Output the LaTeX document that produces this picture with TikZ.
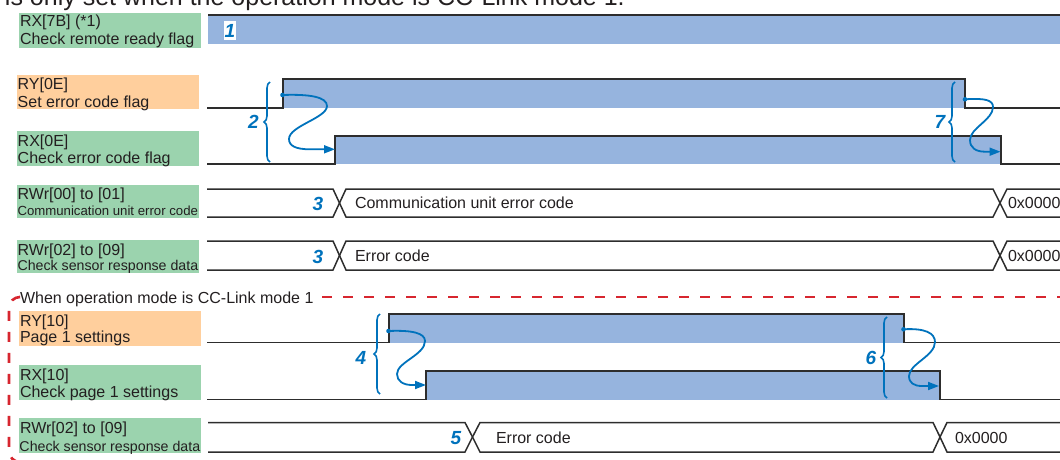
\documentclass[tikz,border=0pt]{standalone}
\usepackage{fontspec}
\setmainfont{Liberation Sans}
\usetikzlibrary{arrows.meta,decorations.pathreplacing}
\definecolor{lblgreen}{RGB}{155,211,174}
\definecolor{lblorange}{RGB}{255,207,157}
\definecolor{sigblue}{RGB}{150,180,222}
\definecolor{arrblue}{RGB}{0,114,188}
\definecolor{dashred}{RGB}{215,38,47}
\definecolor{txt}{RGB}{35,31,32}
\definecolor{wavec}{RGB}{45,45,45}
\tikzset{
  gbox/.style={fill=lblgreen, draw=none, inner sep=0pt, outer sep=0pt},
  obox/.style={fill=lblorange, draw=none, inner sep=0pt, outer sep=0pt},
  lbl/.style={anchor=base west, inner sep=0pt, outer sep=0pt, text=txt, font=\fontsize{16}{16}\selectfont},
  lblsm/.style={lbl, font=\fontsize{13.2}{13.2}\selectfont},
  lblmd/.style={lbl, font=\fontsize{14.2}{14.2}\selectfont},
  num/.style={inner sep=0pt, outer sep=0pt, text=arrblue, font=\fontsize{19}{19}\selectfont\bfseries\itshape},
  wave/.style={draw=wavec, line width=1.5pt, line join=miter},
  hi/.style={fill=sigblue, draw=none},
  flow/.style={draw=arrblue, line width=1.8pt, -{Triangle[length=11pt,width=8pt]}},
  dotst/.style={fill=arrblue, draw=none},
  brc/.style={draw=arrblue, line width=1.6pt, decorate, decoration={brace, amplitude=6pt}},
  dframe/.style={draw=dashred, line width=2.6pt, dash pattern=on 10pt off 11pt},
}
\begin{document}
\begin{tikzpicture}[x=1pt,y=-1pt]
\useasboundingbox (0,0) rectangle (1060,460);
\clip (0,0) rectangle (1060,460);

% clipped title line
\node[lbl, font=\fontsize{25}{25}\selectfont] (ttl) at (5,5.5) {is only set when the operation mode is CC-Link mode 1.};

% ---------- label boxes ----------
\node[gbox, minimum width=182pt, minimum height=35pt] (b1) at (110,30.5) {};
\node[lbl] (t1a) at (20,27) {RX[7B] (*1)};
\node[lbl] (t1b) at (20,45) {Check remote ready flag};

\node[obox, minimum width=182pt, minimum height=34pt] (b2) at (108,92) {};
\node[lbl] (t2a) at (17.7,89.5) {RY[0E]};
\node[lbl] (t2b) at (17.7,107) {Set error code flag};

\node[gbox, minimum width=182pt, minimum height=35pt] (b3) at (108,148.5) {};
\node[lbl] (t3a) at (17.7,146) {RX[0E]};
\node[lbl] (t3b) at (17.7,163) {Check error code flag};

\node[gbox, minimum width=182pt, minimum height=33pt] (b4) at (108,201.5) {};
\node[lbl] (t4a) at (17.7,199) {RWr[00] to [01]};
\node[lblsm] (t4b) at (17.5,215) {Communication unit error code};

\node[gbox, minimum width=182pt, minimum height=33pt] (b5) at (108,256.5) {};
\node[lbl] (t5a) at (17.7,255) {RWr[02] to [09]};
\node[lblmd] (t5b) at (17.5,270) {Check sensor response data};

\node[obox, minimum width=182pt, minimum height=35pt] (b6) at (110,328.5) {};
\node[lbl] (t6a) at (20,326) {RY[10]};
\node[lbl] (t6b) at (20,342) {Page 1 settings};

\node[gbox, minimum width=182pt, minimum height=35pt] (b7) at (110,382.5) {};
\node[lbl] (t7a) at (20,380) {RX[10]};
\node[lbl] (t7b) at (20,397) {Check page 1 settings};

\node[gbox, minimum width=182pt, minimum height=35pt] (b8) at (110,435.5) {};
\node[lbl] (t8a) at (20,433) {RWr[02] to [09]};
\node[lblmd] (t8b) at (19.5,451) {Check sensor response data};

% ---------- CC-Link mode 1 frame ----------
\node[lbl] (mode) at (20,303) {When operation mode is CC-Link mode 1};
\draw[dframe] (322,297) -- (1060,297);
\draw[dframe, rounded corners=11pt] (19,297) -- (9,297) -- (9,462) -- (40,462);

% ---------- row 1 ----------
\fill[hi] (208,16) rectangle (1060,44);
\draw[wave] (208,15) -- (1060,15);
\node[fill=white, inner sep=0pt, minimum width=12pt, minimum height=19pt] (n1bg) at (230,30.5) {};
\node[num] (n1) at (230,30.5) {1};

% ---------- row 2 / row 3 ----------
\fill[hi] (283,79) rectangle (965,108);
\draw[wave] (207,108) -- (283,108) -- (283,79) -- (965,79) -- (965,108) -- (1060,108);
\fill[hi] (335,136) rectangle (1001,164);
\draw[wave] (207,164) -- (335,164) -- (335,136) -- (1001,136) -- (1001,164) -- (1060,164);

\draw[brc] (270,162) -- (270,82);
\node[num] (n2) at (253.5,122) {2};
\draw[brc] (955,162) -- (955,82);
\node[num] (n7) at (940,122) {7};

\coordinate (a2s) at (282.5,95);
\coordinate (a2e) at (335,149.3);
\fill[dotst] (a2s) circle (2.3pt);
\draw[flow] (a2s) .. controls (310,94) and (327,97) .. (327,106)
  .. controls (327,118) and (289,126) .. (289,139)
  .. controls (289,146) and (296,149.3) .. (310,149.3) -- (a2e);

\coordinate (a7s) at (965,99.3);
\coordinate (a7e) at (1000.5,151.7);
\fill[dotst] (a7s) circle (2.3pt);
\draw[flow] (a7s) .. controls (985,98) and (993,100) .. (993,107)
  .. controls (993,120) and (970,128) .. (970,140)
  .. controls (970,148) and (976,151.7) .. (985,151.7) -- (a7e);

% ---------- row 4 (bus) ----------
\draw[wave] (207,189) -- (333,189) -- (339.5,203) -- (333,217) -- (207,217);
\draw[wave] (346,189) -- (993,189) -- (1000,203) -- (993,217) -- (346,217) -- (339.5,203) -- cycle;
\draw[wave] (1060,189) -- (1007,189) -- (1000,203) -- (1007,217) -- (1060,217);
\node[num] (n3a) at (318,204) {3};
\node[lbl] (c4) at (355,208.5) {Communication unit error code};
\node[lbl] (z4) at (1008,208) {0x0000};

% ---------- row 5 (bus) ----------
\draw[wave] (207,241) -- (333,241) -- (339.5,255.5) -- (333,270) -- (207,270);
\draw[wave] (346,241) -- (993,241) -- (1000,255.5) -- (993,270) -- (346,270) -- (339.5,255.5) -- cycle;
\draw[wave] (1060,241) -- (1007,241) -- (1000,255.5) -- (1007,270) -- (1060,270);
\node[num] (n3b) at (318,257) {3};
\node[lbl] (c5) at (355,261.5) {Error code};
\node[lbl] (z5) at (1008,261) {0x0000};

% ---------- RY[10] / RX[10] ----------
\fill[hi] (389,314) rectangle (904,342.5);
\draw[wave] (207,342.5) -- (389,342.5) -- (389,314) -- (904,314) -- (904,342.5) -- (1060,342.5);
\fill[hi] (426,371) rectangle (940,399.5);
\draw[wave] (207,399.5) -- (426,399.5) -- (426,371) -- (940,371) -- (940,399.5) -- (1060,399.5);

\draw[brc] (380,394) -- (380,314);
\node[num] (n4) at (361,358) {4};
\draw[brc] (887,398) -- (887,317);
\node[num] (n6) at (871,358) {6};

\coordinate (a4s) at (388.5,331);
\coordinate (a4e) at (426,385);
\fill[dotst] (a4s) circle (2.3pt);
\draw[flow] (a4s) .. controls (412,330) and (425,333) .. (425,341)
  .. controls (425,355) and (397,362) .. (397,374)
  .. controls (397,381) and (403,385) .. (412,385) -- (a4e);

\coordinate (a6s) at (903.5,329.3);
\coordinate (a6e) at (939,386);
\fill[dotst] (a6s) circle (2.3pt);
\draw[flow] (a6s) .. controls (925,328) and (935,333) .. (935,342)
  .. controls (935,356) and (909,364) .. (909,376)
  .. controls (909,383) and (914,386) .. (922,386) -- (a6e);

% ---------- bottom bus ----------
\draw[wave] (208,422.5) -- (465,422.5) -- (472.5,437) -- (465,452) -- (208,452);
\draw[wave] (480,422.5) -- (933,422.5) -- (940,437) -- (933,452) -- (480,452) -- (472.5,437) -- cycle;
\draw[wave] (1060,422.5) -- (947,422.5) -- (940,437) -- (947,452) -- (1060,452);
\node[num] (n5) at (456,438) {5};
\node[lbl] (c8) at (496,443) {Error code};
\node[lbl] (z8) at (955,443) {0x0000};
\end{tikzpicture}
\end{document}
